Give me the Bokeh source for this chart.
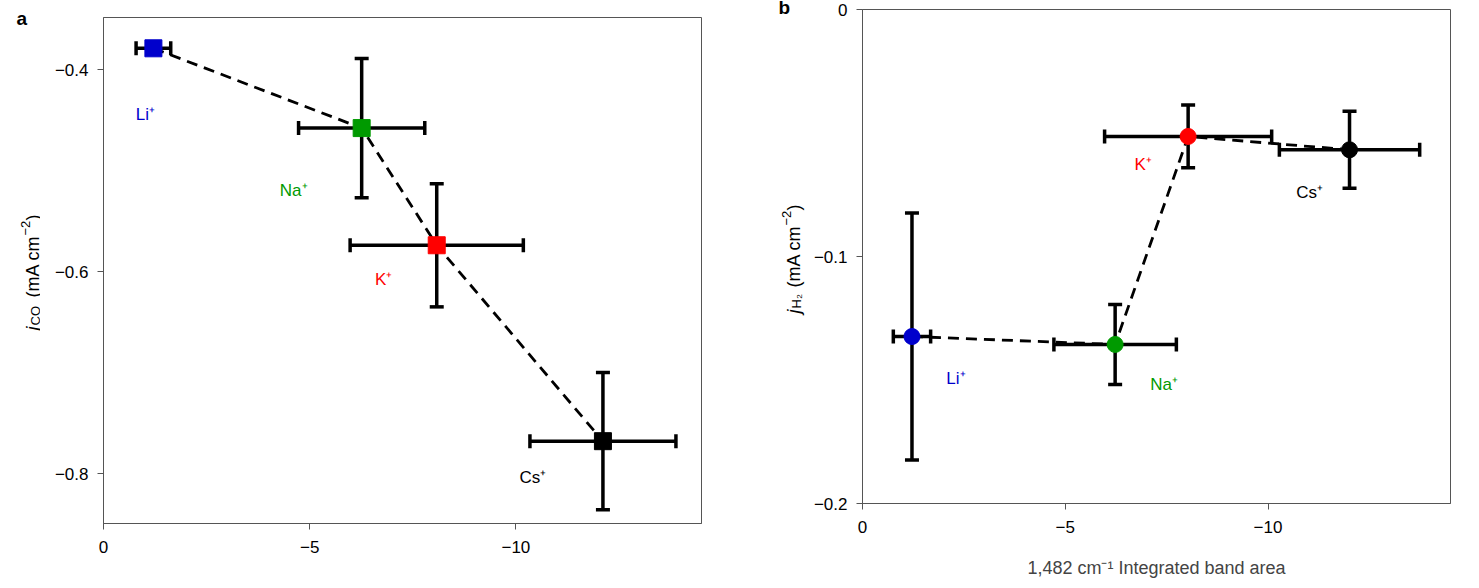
from math import pi
from bokeh.plotting import figure
from bokeh.layouts import row
from bokeh.models import ColumnDataSource, Whisker, TeeHead, Range1d, FixedTicker
from bokeh.embed import file_html
from bokeh.resources import INLINE
from bokeh.core.properties import value

# ---------------- data ----------------
cations = ["Li⁺", "Na⁺", "K⁺", "Cs⁺"]
colors = ["#0000cc", "#009a00", "#ff0000", "#000000"]

# panel a : j_CO vs band area
band_area_a = [-1.21, -6.26, -8.08, -12.11]
band_err_a = [0.42, 1.53, 2.10, 1.77]
j_co = [-0.379, -0.458, -0.574, -0.768]
j_co_err = [0.0, 0.069, 0.061, 0.068]

# panel b : j_H2 vs band area
band_area_b = [-1.22, -6.23, -8.03, -12.01]
band_err_b = [0.46, 1.51, 2.06, 1.73]
j_h2 = [-0.1324, -0.1356, -0.0514, -0.0568]
j_h2_err = [0.050, 0.0162, 0.0127, 0.0156]

x_ticks = [0, -5, -10]
x_tick_labels = ["0", "−5", "−10"]
ya_ticks = [-0.4, -0.6, -0.8]
ya_tick_labels = ["−0.4", "−0.6", "−0.8"]
yb_ticks = [0, -0.1, -0.2]
yb_tick_labels = ["0", "−0.1", "−0.2"]

x_title = "1,482 cm⁻¹ Integrated band area"
unit_parts = ["(mA cm", "−2", ")"]

# label offsets (screen px: dx right, dy down)
lab_off_a = [(-8, 66), (-68, 62), (-53, 34), (-70, 36)]
lab_off_b = [(44, 42), (49, 40), (-45, 28), (-40, 43)]

FONT = "Liberation Sans"
H = 586


def style(p, xt, xtl, yt, ytl):
    p.xgrid.visible = False
    p.ygrid.visible = False
    p.outline_line_color = "#555555"
    p.outline_line_width = 1
    p.xaxis.ticker = FixedTicker(ticks=xt)
    p.xaxis.major_label_overrides = dict(zip(xt, xtl))
    p.yaxis.ticker = FixedTicker(ticks=yt)
    p.yaxis.major_label_overrides = dict(zip(yt, ytl))
    for ax in (p.xaxis[0], p.yaxis[0]):
        ax.major_tick_out = 6
        ax.major_tick_in = 0
        ax.minor_tick_line_color = None
        ax.axis_line_color = "#555555"
        ax.major_tick_line_color = "#555555"
        ax.major_label_text_font = FONT
        ax.major_label_text_font_size = "17px"
        ax.major_label_text_color = "black"
    p.xaxis.major_label_standoff = 11
    p.yaxis.major_label_standoff = 9


def draw(p, xs, xerr, ys, yerr, marker, size, offs):
    hsrc = ColumnDataSource(dict(
        y=ys,
        lo=[x - e for x, e in zip(xs, xerr)],
        hi=[x + e for x, e in zip(xs, xerr)],
    ))
    keep = [i for i, e in enumerate(yerr) if e > 0]
    vsrc = ColumnDataSource(dict(
        x=[xs[i] for i in keep],
        lo=[ys[i] - yerr[i] for i in keep],
        hi=[ys[i] + yerr[i] for i in keep],
    ))
    for src, base, dim in ((hsrc, "y", "width"), (vsrc, "x", "height")):
        w = Whisker(source=src, base=base, lower="lo", upper="hi", dimension=dim,
                    line_width=3.5, line_color="black",
                    upper_head=TeeHead(size=14, line_width=3.5, line_color="black"),
                    lower_head=TeeHead(size=14, line_width=3.5, line_color="black"))
        p.add_layout(w)
    p.line(xs, ys, line_dash="11 7", line_width=2.8, line_color="black")
    p.scatter(xs, ys, marker=marker, size=size, fill_color=colors, line_color=colors)
    tsrc = ColumnDataSource(dict(x=xs, y=ys, t=cations, c=colors,
                                 dx=[o[0] for o in offs], dy=[o[1] for o in offs]))
    p.text(x="x", y="y", text="t", text_color="c", x_offset="dx", y_offset="dy",
           text_align="center", text_baseline="middle",
           text_font=value(FONT), text_font_size="17px", source=tsrc)


def label_fig(w):
    f = figure(frame_width=w, frame_height=H, min_border=0,
               x_range=Range1d(0, w), y_range=Range1d(H, 0),
               x_axis_location=None, y_axis_location=None,
               output_backend="svg", toolbar_location=None)
    f.xgrid.visible = False
    f.ygrid.visible = False
    f.outline_line_color = None
    return f


def ylabel(f, xb, ystart, sub, sub_len, gap):
    # rotated composite label: j_sub (mA cm^-2), reading bottom to top
    y_unit = ystart - 5 - sub_len - gap
    pieces = [
        ("j", "18px", "italic", xb, ystart),
        (sub, "13px", "normal", xb + 3, ystart - 5),
        (unit_parts[0], "18px", "normal", xb, y_unit),
        (unit_parts[1], "13px", "normal", xb - 7, y_unit - 62),
        (unit_parts[2], "18px", "normal", xb, y_unit - 62 - 15),
    ]
    for txt, fs, st, x, y in pieces:
        f.text(x=[x], y=[y], text=[txt], angle=pi / 2, text_align="left",
               text_baseline="alphabetic", text_font=value(FONT),
               text_font_size=fs, text_font_style=st, text_color="black")


# ---------------- label strip for panel a ----------------
la = label_fig(40)
ylabel(la, 32, 330, "CO", 20, 8)
la.text(x=[16], y=[18], text=["a"], text_align="left", text_baseline="middle",
        text_font=value(FONT), text_font_size="19px", text_font_style="bold",
        text_color="black")

# ---------------- panel a ----------------
pa = figure(frame_width=598, frame_height=506, min_border_left=63, min_border_right=20,
            min_border_top=17, min_border_bottom=H - 523,
            x_range=Range1d(0, -14.5), y_range=Range1d(-0.8495, -0.3485),
            output_backend="svg", toolbar_location=None)
style(pa, x_ticks, x_tick_labels, ya_ticks, ya_tick_labels)
draw(pa, band_area_a, band_err_a, j_co, j_co_err, "square", 17, lab_off_a)

# ---------------- label strip for panel b ----------------
lb = label_fig(84)
ylabel(lb, 72, 313, "H₂", 14, 7)
lb.text(x=[57], y=[7], text=["b"], text_align="left", text_baseline="middle",
        text_font=value(FONT), text_font_size="19px", text_font_style="bold",
        text_color="black")

# ---------------- panel b ----------------
pb = figure(frame_width=588, frame_height=494, min_border_left=57, min_border_right=15,
            min_border_top=9, min_border_bottom=H - 503,
            x_range=Range1d(0, -14.5), y_range=Range1d(-0.2, 0),
            output_backend="svg", toolbar_location=None)
style(pb, x_ticks, x_tick_labels, yb_ticks, yb_tick_labels)
pb.xaxis.axis_label = x_title
pb.xaxis.axis_label_text_font = FONT
pb.xaxis.axis_label_text_font_size = "18px"
pb.xaxis.axis_label_text_font_style = "normal"
pb.xaxis.axis_label_standoff = 22
draw(pb, band_area_b, band_err_b, j_h2, j_h2_err, "circle", 16, lab_off_b)

for f in (la, pa, lb, pb):
    f.frame_align = False

layout = row(la, pa, lb, pb)
open("out.html", "w").write(file_html(layout, INLINE))
